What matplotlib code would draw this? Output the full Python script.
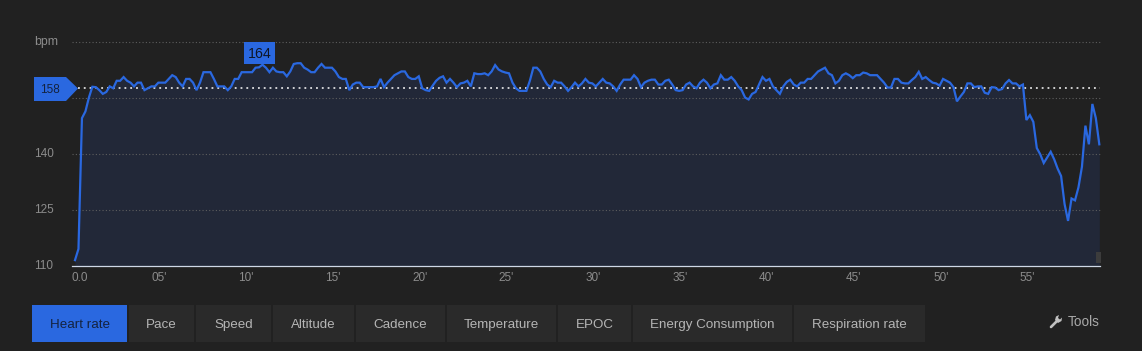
import numpy as np
import matplotlib
matplotlib.use("Agg")
import matplotlib.pyplot as plt
from matplotlib.patches import Rectangle, Polygon

plt.rcParams['font.family'] = ['Liberation Sans', 'DejaVu Sans']

# heart rate, one sample every 0.2 min
hr = [
    112, 115, 150, 151.8, 155.5, 158.4, 158.3, 157.5, 156.5, 157,
    158.5, 158, 160, 160, 161, 160, 159.5, 158.5, 159.5, 159.5,
    157.5, 158, 158.5, 158.5, 159.5, 159.5, 159.5, 160.5, 161.5, 161,
    159.5, 158.5, 160.5, 160.5, 159.5, 157.5, 159.5, 162.3, 162.3, 162.3,
    160.5, 158.5, 158.5, 158.5, 157.5, 158.5, 160.5, 160.5, 162.3, 162.3,
    162.3, 162.3, 163.5, 163.6, 164.3, 163.5, 162.3, 163.5, 162.5, 162.3,
    162.3, 161.2, 162.5, 164.5, 164.7, 164.7, 163.5, 163, 162.3, 162.3,
    163.5, 164.5, 163.5, 163.5, 163.5, 162.5, 161, 160.5, 160.5, 157.5,
    159, 159.5, 159.5, 158.3, 158.3, 158.3, 158.3, 158.5, 160.5, 158.3,
    159.5, 160.5, 161.5, 162, 162.5, 162.5, 161, 160.5, 160.5, 161.2,
    158, 157.5, 157.3, 158.7, 160, 160.8, 161.2, 159.5, 160.5, 159.5,
    158.3, 159.3, 159.5, 160, 158.5, 162, 161.8, 161.8, 162, 161.5,
    162.5, 164.2, 163, 162.5, 162.2, 162, 159.5, 158, 157.3, 157.3,
    157.3, 160, 163.5, 163.5, 162.5, 160.5, 159, 158.3, 160, 159.5,
    159.5, 158.5, 157.3, 158.3, 159.5, 158.5, 159.3, 160.5, 159.5, 159.3,
    158.5, 159.5, 160.5, 159.5, 159.3, 158.5, 157.3, 159, 160.3, 160.3,
    160.3, 161.5, 160.5, 158.3, 159.5, 160, 160.3, 160.3, 159, 159,
    160, 160.3, 159, 157.5, 157.3, 157.5, 159, 159.5, 158.5, 158,
    159.5, 160.3, 159.5, 158, 159, 159.3, 161.5, 160.3, 160.3, 161,
    160, 158.5, 157.5, 155.5, 155, 156.5, 157, 159, 161, 160,
    160.5, 158.5, 157.5, 156.5, 158.5, 159.7, 160.3, 159, 158.5, 159.5,
    159.5, 160.5, 160.5, 161.5, 162.5, 163, 163.5, 162, 161.5, 159.3,
    160, 161.5, 162, 161.5, 160.7, 161.5, 161.5, 162.2, 162, 161.5,
    161.5, 161.5, 160.5, 159.5, 158.2, 158.2, 160.5, 160.5, 159.5, 159.3,
    159.3, 160.2, 161, 162.4, 160.5, 161, 160.2, 159.5, 159.3, 158.7,
    160.5, 160, 159.5, 158.3, 154.5, 155.8, 157, 159.3, 159.3, 158.3,
    158.5, 158.5, 156.8, 156.5, 158.3, 158.2, 157.5, 157.8, 159.3, 160.2,
    159.3, 159.3, 158.5, 159, 149.5, 150.8, 149, 142, 140.3, 138,
    139.5, 141, 139, 136.5, 134.5, 127, 122.5, 128.5, 128, 131.5,
    137, 148, 143, 153.8, 150, 143,
]
minutes = np.arange(len(hr)) * 0.2
# values were read against the dotted average line, which sits a little under 158
hr = np.array(hr) - 0.3

avg_line = 157.7
avg_label = "158"
max_label = "164"
y_grid = [125, 140, 155, 170]
y_ticks = [110, 125, 140]
x_labels = ["0.0", "05'", "10'", "15'", "20'", "25'", "30'", "35'", "40'", "45'", "50'", "55'"]
x_pos = [0.3, 4.84, 9.85, 14.84, 19.85, 24.85, 29.85, 34.85, 39.85, 44.85, 49.9, 54.85]
buttons = ["Heart rate", "Pace", "Speed", "Altitude", "Cadence", "Temperature",
           "EPOC", "Energy Consumption", "Respiration rate"]
button_x = [(32, 127), (129, 194), (196, 271), (273, 354), (356, 445), (447, 556),
            (558, 631), (633, 792), (794, 925)]

bg = '#212121'
blue = '#2a68e0'
fill = '#222838'
txt = '#8c8c8c'

fig = plt.figure(figsize=(11.42, 3.51), dpi=100, facecolor=bg)

ax = fig.add_axes([72/1142, (351-266.5)/351, (1100-72)/1142, 224.2/351])
ax.set_facecolor('none')
ax.set_xlim(-3/17.36, 59.04)
ax.set_ylim(110, 170)
for s in ['top', 'left', 'right']:
    ax.spines[s].set_visible(False)
ax.spines['bottom'].set_color('#cfd8e6')
ax.spines['bottom'].set_linewidth(0.9)
ax.spines['bottom'].set_position(('outward', -0.7))

ax.fill_between(minutes, hr, 110, color=fill, lw=0, zorder=1)
ax.hlines(y_grid, -0.17, 59.04, color='#5e5e5e', lw=0.8, linestyles=(0, (1, 2)), zorder=2, clip_on=False)
ax.hlines(avg_line, 0.15, 59.04, color='white', lw=1.1, linestyles=(0, (1.2, 2.6)), zorder=3)
ax.plot(minutes, hr, color=blue, lw=1.6, zorder=4, solid_joinstyle='miter', clip_on=False)

ax.set_xticks(x_pos)
ax.set_xticklabels(x_labels, color=txt, fontsize=8.5)
ax.set_yticks([])
ax.tick_params(axis='x', length=0, pad=4.5)

# page furniture in pixel coordinates
ui = fig.add_axes([0, 0, 1, 1])
ui.set_xlim(0, 1142)
ui.set_ylim(351, 0)
ui.axis('off')
ui.patch.set_alpha(0)

ui.text(34, 45.5, "bpm", color=txt, fontsize=8.8, va='baseline', ha='left')
for v in y_ticks:
    py = 266.5 - (v - 110) * 3.737
    ui.text(34, py + 2.5, str(v), color=txt, fontsize=8.5, va='baseline', ha='left')

ui.add_patch(Polygon([(34, 77), (66, 77), (78, 88.5), (66, 101), (34, 101)], color=blue, lw=0))
ui.text(50, 93, avg_label, color='#14233f', fontsize=8.5, ha='center', va='baseline')

ui.add_patch(Rectangle((244, 42), 31, 22, color=blue, lw=0))
ui.text(259.5, 58, max_label, color='#0e1626', fontsize=10.2, ha='center', va='baseline')

ui.add_patch(Rectangle((1096, 252), 5, 11, color='#3c3c3c', lw=0))

for i, (name, (x0, x1)) in enumerate(zip(buttons, button_x)):
    active = i == 0
    ui.add_patch(Rectangle((x0, 305), x1 - x0, 37, color=blue if active else '#2a2a2a', lw=0))
    ui.text((x0 + x1) / 2, 328, name, color='#14233f' if active else '#b5b5b5',
            fontsize=9.6, ha='center', va='baseline')

# wrench icon
ui.plot([1051, 1057], [327, 321], color='#c0c0c0', lw=1.9, solid_capstyle='round')
ui.add_patch(Polygon([(1055, 320), (1056, 316.5), (1059, 315), (1058, 318), (1060, 319.5),
                      (1062, 317.5), (1061.5, 321), (1058, 323)], color='#c0c0c0', lw=0))
ui.text(1100, 326, "Tools", color='#a8a8a8', fontsize=9.8, ha='right', va='baseline')

fig.savefig('out.png', dpi=100, facecolor=bg)
